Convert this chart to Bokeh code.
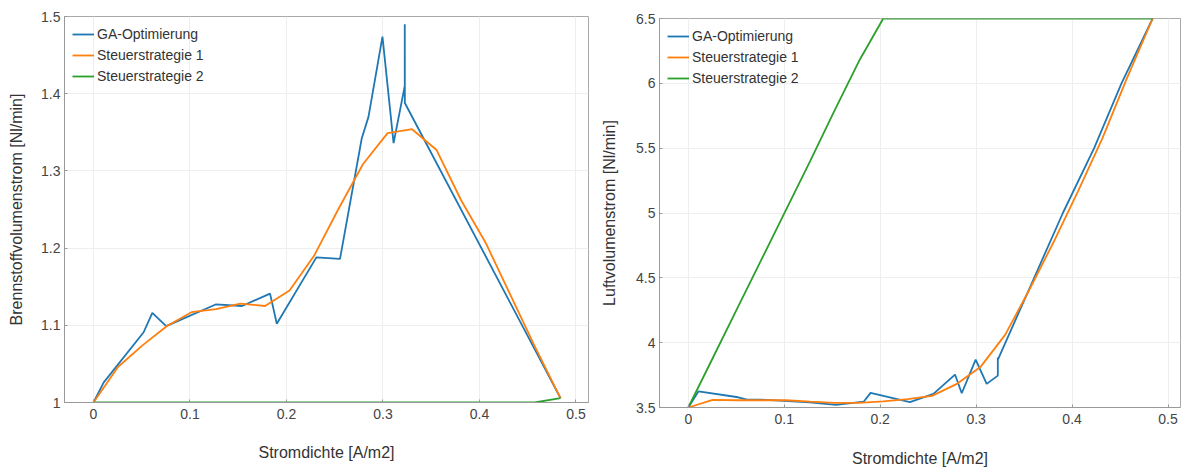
from bokeh.plotting import figure
from bokeh.layouts import row, column
from bokeh.models import Range1d, FixedTicker, CustomJSTickFormatter, Legend, LegendItem
from bokeh.embed import file_html
from bokeh.resources import INLINE

# ---------------- data ----------------
# Left: Brennstoffvolumenstrom
ga_x_left = [0, 0.0107, 0.052, 0.061, 0.0754, 0.1266, 0.154, 0.183, 0.190, 0.231,
             0.2555, 0.278, 0.285, 0.2995, 0.311, 0.3226, 0.3226, 0.3227, 0.484]
ga_y_left = [1.0, 1.026, 1.091, 1.116, 1.099, 1.127, 1.125, 1.141, 1.102, 1.188,
             1.186, 1.342, 1.370, 1.474, 1.336, 1.410, 1.490, 1.388, 1.0056]

st_x = [0, 0.0254, 0.0508, 0.0762, 0.1016, 0.127, 0.1524, 0.1778, 0.2032, 0.2286,
        0.254, 0.2794, 0.3048, 0.3302, 0.3556, 0.381, 0.4064, 0.4318, 0.4572, 0.484]
st1_y_left = [1.0, 1.046, 1.074, 1.099, 1.117, 1.121, 1.128, 1.125, 1.145, 1.190,
              1.251, 1.309, 1.349, 1.354, 1.327, 1.262, 1.207, 1.140, 1.073, 1.0056]
st2_y_left = [1.0, 1.0, 1.0, 1.0, 1.0, 1.0, 1.0, 1.0, 1.0, 1.0,
              1.0, 1.0, 1.0, 1.0, 1.0, 1.0, 1.0, 1.0, 1.0, 1.0056]

# Right: Luftvolumenstrom
ga_x_right = [0, 0.0107, 0.052, 0.061, 0.0754, 0.1266, 0.154, 0.183, 0.190, 0.231,
              0.2555, 0.278, 0.285, 0.2995, 0.311, 0.3226, 0.3226, 0.3227, 0.3605,
              0.3904, 0.423, 0.4515, 0.484]
ga_y_right = [3.5, 3.625, 3.579, 3.561, 3.561, 3.540, 3.521, 3.546, 3.613, 3.541,
              3.605, 3.754, 3.610, 3.869, 3.682, 3.746, 3.885, 3.870, 4.5,
              5.0, 5.5, 6.0, 6.5]
st1_y_right = [3.5, 3.559, 3.556, 3.556, 3.556, 3.545, 3.536, 3.536, 3.548, 3.564,
               3.590, 3.680, 3.815, 4.060, 4.410, 4.780, 5.170, 5.580, 6.040, 6.5]
st2_y_right = [3.5, 3.88, 4.26, 4.64, 5.02, 5.40, 5.79, 6.17, 6.5, 6.5,
               6.5, 6.5, 6.5, 6.5, 6.5, 6.5, 6.5, 6.5, 6.5, 6.5]

x_ticks = [0, 0.1, 0.2, 0.3, 0.4, 0.5]
y_ticks_left = [1, 1.1, 1.2, 1.3, 1.4, 1.5]
y_ticks_right = [3.5, 4, 4.5, 5, 5.5, 6, 6.5]

series_names = ["GA-Optimierung", "Steuerstrategie 1", "Steuerstrategie 2"]
colors = ["#1f77b4", "#ff7f0e", "#2ca02c"]

FONT = "Liberation Sans"
fmt_code = "return String(Math.round(tick*1000)/1000);"


def make(width, height, yr, yticks, ylabel, series, borders, xstand, ystand):
    p = figure(width=width, height=height, output_backend="svg", toolbar_location=None,
               x_range=Range1d(-0.03, 0.513), y_range=Range1d(*yr),
               min_border_left=borders[0], min_border_right=borders[1],
               min_border_top=borders[2], min_border_bottom=borders[3])
    p.outline_line_color = "#aaaaaa"
    p.background_fill_color = "white"
    p.border_fill_color = "white"
    for ax in (p.xaxis[0], p.yaxis[0]):
        ax.axis_line_color = "#999999"
        ax.major_tick_line_color = "#999999"
        ax.major_tick_in = 3
        ax.major_tick_out = 0
        ax.minor_tick_line_color = None
        ax.major_label_text_font = FONT
        ax.major_label_text_font_size = "14px"
        ax.major_label_text_color = "#444444"
        ax.axis_label_text_font = FONT
        ax.axis_label_text_font_size = "16px"
        ax.axis_label_text_font_style = "normal"
        ax.axis_label_text_color = "#333333"
        ax.formatter = CustomJSTickFormatter(code=fmt_code)
    p.xaxis[0].ticker = FixedTicker(ticks=x_ticks)
    p.yaxis[0].ticker = FixedTicker(ticks=yticks)
    p.xaxis[0].axis_label = "Stromdichte [A/m2]"
    p.yaxis[0].axis_label = ylabel
    p.xaxis[0].major_label_standoff = 6
    p.yaxis[0].major_label_standoff = 4
    p.xaxis[0].axis_label_standoff = xstand
    p.yaxis[0].axis_label_standoff = ystand
    p.xgrid.grid_line_color = "#eeeeee"
    p.ygrid.grid_line_color = "#eeeeee"

    items = []
    for name, color, (xs, ys) in zip(series_names, colors, series):
        r = p.line(xs, ys, line_color=color, line_width=1.8)
        items.append(LegendItem(label=name, renderers=[r]))
    leg = Legend(items=items, location="top_left")
    leg.background_fill_alpha = 0
    leg.border_line_alpha = 0
    leg.label_text_font = FONT
    leg.label_text_font_size = "14px"
    leg.label_text_color = "#333333"
    leg.glyph_width = 22
    leg.glyph_height = 20
    leg.label_height = 20
    leg.label_standoff = 3
    leg.spacing = 1
    leg.padding = 8
    leg.margin = 0
    p.add_layout(leg)
    return p


p1 = make(595, 471, (1.0, 1.5), y_ticks_left, "Brennstoffvolumenstrom [Nl/min]",
          [(ga_x_left, ga_y_left), (st_x, st1_y_left), (st_x, st2_y_left)],
          (64, 7, 16, 69), 22, 13)
p2 = make(588, 471, (3.5, 6.5), y_ticks_right, "Luftvolumenstrom [Nl/min]",
          [(ga_x_right, ga_y_right), (st_x, st1_y_right), (st_x, st2_y_right)],
          (64, 3, 18, 64), 23, 15)

layout = row(column(p1), column(p2))
open("out.html", "w").write(file_html(layout, INLINE))
